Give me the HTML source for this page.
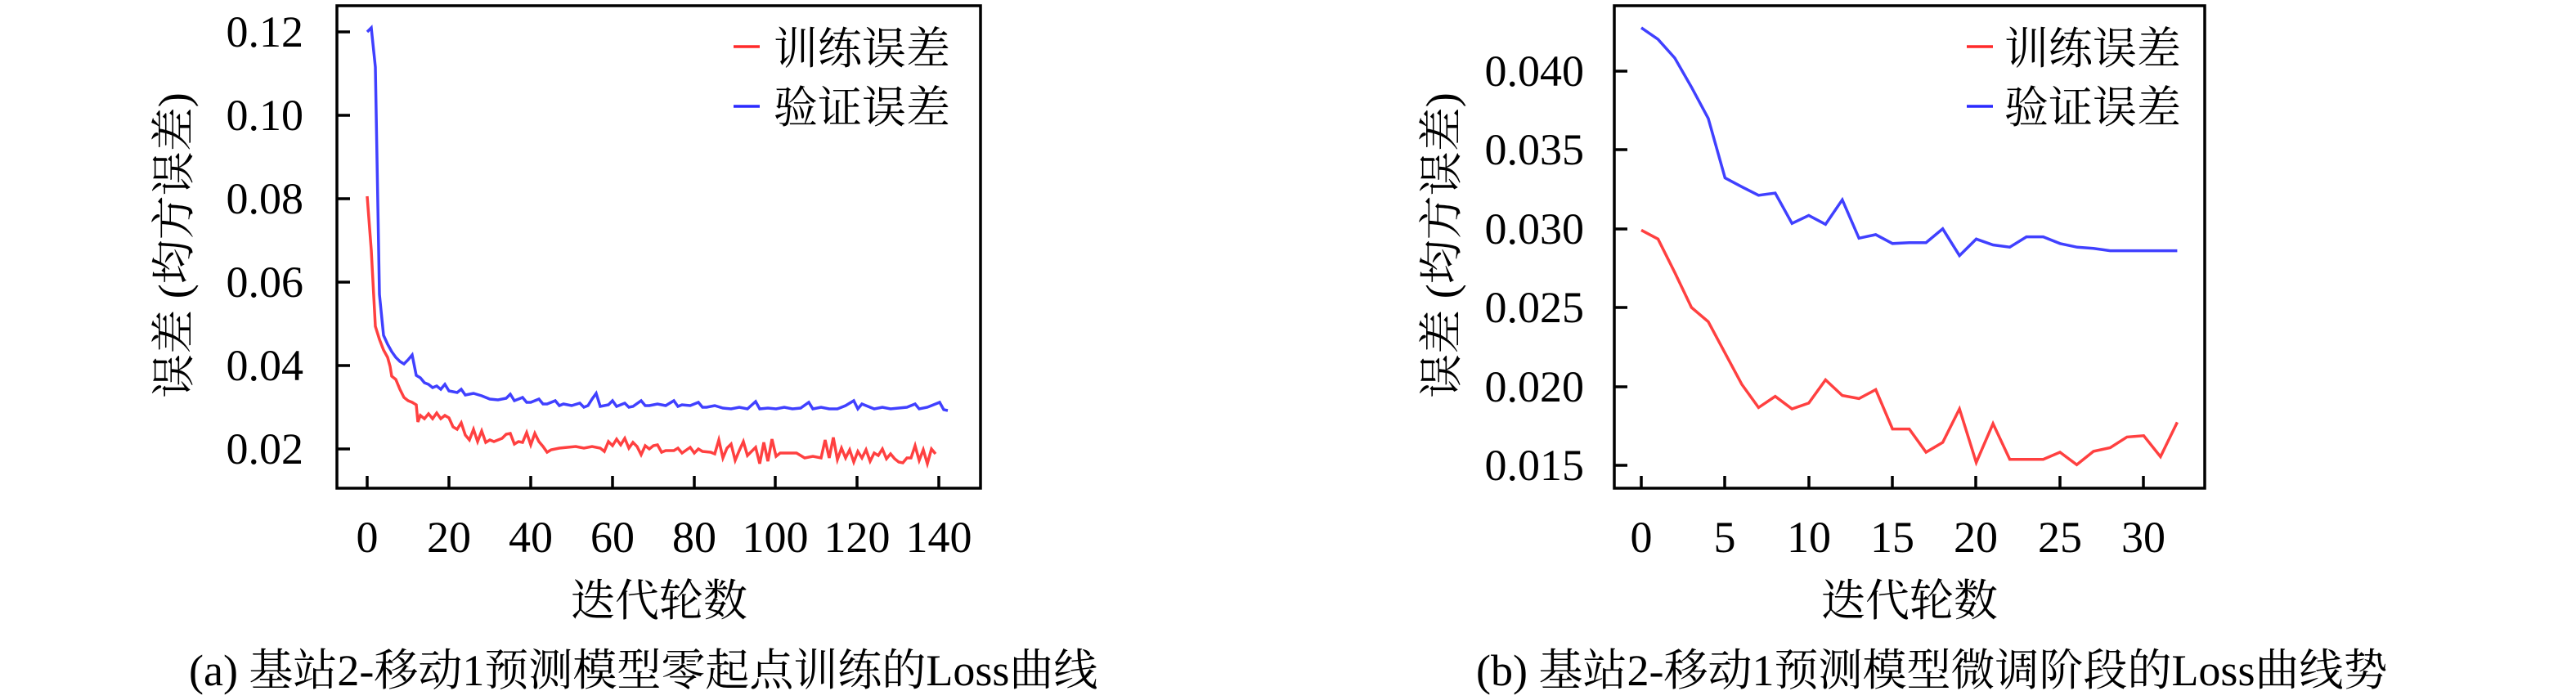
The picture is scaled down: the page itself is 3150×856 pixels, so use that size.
<!DOCTYPE html>
<html><head><meta charset="utf-8"><style>
html,body{margin:0;padding:0;background:#fff;}
svg{display:block;}
svg text{font-family:"Liberation Serif","DejaVu Serif","Noto Serif CJK SC","Noto Sans CJK SC",serif;fill:#000;}
</style></head><body>
<svg width="3150" height="856" viewBox="0 0 3150 856" xmlns="http://www.w3.org/2000/svg" font-family="'Liberation Serif','Noto Serif CJK SC',serif">
<!-- LEFT PLOT -->
<rect x="412" y="7" width="787" height="590" fill="none" stroke="#000" stroke-width="3.5"/>
<g stroke="#000" stroke-width="3.5">
<line x1="412" y1="39" x2="428" y2="39"/><line x1="412" y1="141" x2="428" y2="141"/><line x1="412" y1="243" x2="428" y2="243"/><line x1="412" y1="345" x2="428" y2="345"/><line x1="412" y1="447" x2="428" y2="447"/><line x1="412" y1="549" x2="428" y2="549"/>
<line x1="449" y1="597" x2="449" y2="582"/><line x1="549" y1="597" x2="549" y2="582"/><line x1="649" y1="597" x2="649" y2="582"/><line x1="749" y1="597" x2="749" y2="582"/><line x1="849" y1="597" x2="849" y2="582"/><line x1="948" y1="597" x2="948" y2="582"/><line x1="1048" y1="597" x2="1048" y2="582"/><line x1="1148" y1="597" x2="1148" y2="582"/>
</g>
<g font-size="54" text-anchor="end" font-family="'Liberation Serif',serif">
<text x="371" y="57">0.12</text><text x="371" y="159">0.10</text><text x="371" y="261">0.08</text><text x="371" y="363">0.06</text><text x="371" y="465">0.04</text><text x="371" y="567">0.02</text>
</g>
<g font-size="54" text-anchor="middle" font-family="'Liberation Serif',serif">
<text x="449" y="675">0</text><text x="549" y="675">20</text><text x="649" y="675">40</text><text x="749" y="675">60</text><text x="849" y="675">80</text><text x="948" y="675">100</text><text x="1048" y="675">120</text><text x="1148" y="675">140</text>
</g>
<text font-size="54" x="806" y="753" text-anchor="middle">迭代轮数</text>
<text font-size="54" transform="translate(231,300) rotate(-90)" text-anchor="middle">误差 (均方误差)</text>
<text font-size="54" x="231" y="838">(a) 基站2-移动1预测模型零起点训练的Loss曲线</text>
<line x1="897" y1="57" x2="929" y2="57" stroke="#ff2a2a" stroke-width="3.5"/>
<line x1="897" y1="130" x2="929" y2="130" stroke="#2a2aff" stroke-width="3.5"/>
<text font-size="54" x="946" y="78">训练误差</text>
<text font-size="54" x="946" y="150">验证误差</text>
<polyline fill="none" stroke="#4040ff" stroke-width="3.5" points="449,39 454,34 459,82 464,360 469,410 474,421 479,430 484,437 489,442 494,445 499,440 504,434 509,459 514,462 519,468 524,470 529,474 534,472 539,476 544,470 549,478 559,480 564,476 569,483 579,481 589,484 599,488 609,489 619,487 624,482 629,490 639,486 644,492 649,492 659,488 664,494 669,494 679,490 684,496 689,494 699,496 709,493 714,498 719,496 724,488 729,481 734,497 744,495 749,490 754,497 764,493 769,498 774,497 784,490 789,496 794,496 804,494 814,496 824,490 829,497 834,495 844,496 854,492 859,498 864,498 874,496 884,499 894,500 904,498 914,500 924,491 929,500 939,499 949,500 959,498 969,500 979,499 989,492 994,500 1004,498 1014,500 1024,500 1034,496 1044,490 1049,500 1054,494 1059,496 1069,500 1079,498 1089,500 1099,499 1109,498 1119,494 1124,500 1134,498 1144,494 1149,492 1154,501 1159,502"/>
<polyline fill="none" stroke="#ff4040" stroke-width="3.5" points="449,240 454,306 459,399 464,415 469,428 474,437 477,448 479,460 484,464 489,476 494,486 499,490 504,492 509,495 511,516 514,508 519,512 524,506 529,512 534,505 539,512 544,508 549,511 554,522 559,525 564,517 569,532 574,538 579,525 584,540 589,527 594,541 599,538 604,540 609,538 614,536 619,531 624,530 629,543 634,540 639,541 644,529 649,544 654,530 659,540 664,546 669,553 674,550 684,548 694,547 704,546 714,548 724,546 734,548 739,552 744,540 749,545 754,537 759,544 764,536 769,548 774,541 779,546 784,556 789,545 794,549 799,545 804,544 809,553 814,551 824,551 829,548 834,554 844,547 849,554 854,549 859,552 869,553 874,555 879,538 884,560 889,548 894,543 899,563 904,551 909,540 914,557 919,552 924,547 929,567 934,541 939,564 944,537 949,558 954,554 964,554 974,554 984,560 994,558 1004,560 1009,538 1014,560 1019,535 1024,562 1029,548 1034,560 1039,550 1044,565 1049,552 1054,560 1059,550 1064,564 1069,554 1074,557 1079,549 1084,561 1089,555 1094,561 1099,565 1104,566 1109,560 1114,560 1119,545 1124,563 1129,550 1134,567 1139,549 1144,555"/>
<!-- RIGHT PLOT -->
<rect x="1974" y="7" width="722" height="590" fill="none" stroke="#000" stroke-width="3.5"/>
<g stroke="#000" stroke-width="3.5">
<line x1="1974" y1="87" x2="1990" y2="87"/><line x1="1974" y1="183" x2="1990" y2="183"/><line x1="1974" y1="280" x2="1990" y2="280"/><line x1="1974" y1="376" x2="1990" y2="376"/><line x1="1974" y1="473" x2="1990" y2="473"/><line x1="1974" y1="569" x2="1990" y2="569"/>
<line x1="2007" y1="597" x2="2007" y2="582"/><line x1="2109" y1="597" x2="2109" y2="582"/><line x1="2212" y1="597" x2="2212" y2="582"/><line x1="2314" y1="597" x2="2314" y2="582"/><line x1="2416" y1="597" x2="2416" y2="582"/><line x1="2519" y1="597" x2="2519" y2="582"/><line x1="2621" y1="597" x2="2621" y2="582"/>
</g>
<g font-size="54" text-anchor="end" font-family="'Liberation Serif',serif">
<text x="1937" y="105">0.040</text><text x="1937" y="201">0.035</text><text x="1937" y="298">0.030</text><text x="1937" y="394">0.025</text><text x="1937" y="491">0.020</text><text x="1937" y="587">0.015</text>
</g>
<g font-size="54" text-anchor="middle" font-family="'Liberation Serif',serif">
<text x="2007" y="675">0</text><text x="2109" y="675">5</text><text x="2212" y="675">10</text><text x="2314" y="675">15</text><text x="2416" y="675">20</text><text x="2519" y="675">25</text><text x="2621" y="675">30</text>
</g>
<text font-size="54" x="2335" y="753" text-anchor="middle">迭代轮数</text>
<text font-size="54" transform="translate(1781,300) rotate(-90)" text-anchor="middle">误差 (均方误差)</text>
<text font-size="54" x="1805" y="838">(b) 基站2-移动1预测模型微调阶段的Loss曲线势</text>
<line x1="2405" y1="57" x2="2437" y2="57" stroke="#ff2a2a" stroke-width="3.5"/>
<line x1="2405" y1="130" x2="2437" y2="130" stroke="#2a2aff" stroke-width="3.5"/>
<text font-size="54" x="2451" y="78">训练误差</text>
<text font-size="54" x="2451" y="150">验证误差</text>
<polyline fill="none" stroke="#4040ff" stroke-width="3.5" points="2007,33.9 2027.5,48.1 2048,71 2068.4,106.6 2088.9,144.8 2109.4,217.5 2129.9,228.4 2150.4,238.8 2170.8,236.1 2191.3,273.2 2211.8,263.4 2232.3,274.3 2252.8,244.3 2273.2,291.3 2293.7,286.9 2314.2,297.8 2334.7,296.7 2355.2,296.7 2375.6,279.8 2396.1,312.6 2416.6,292.3 2437.1,299.5 2457.6,302.2 2478,289.6 2498.5,289.6 2519,297.8 2539.5,302.2 2560,303.8 2580.4,306.6 2600.9,306.6 2621.4,306.6 2641.9,306.6 2662.4,306.6"/>
<polyline fill="none" stroke="#ff4040" stroke-width="3.5" points="2007,281.4 2027.5,292.3 2048,333.3 2068.4,376 2088.9,393.4 2109.4,431.7 2129.9,470 2150.4,498.4 2170.8,484.7 2191.3,500 2211.8,492.9 2232.3,464.5 2252.8,483.6 2273.2,487.4 2293.7,476.5 2314.2,524.6 2334.7,524.6 2355.2,553 2375.6,541 2396.1,500 2416.6,565.6 2437.1,518 2457.6,561.7 2478,561.7 2498.5,561.7 2519,553 2539.5,568.3 2560,551.9 2580.4,547.5 2600.9,534.4 2621.4,532.8 2641.9,558.5 2662.4,516.4"/>
</svg>
</body></html>
